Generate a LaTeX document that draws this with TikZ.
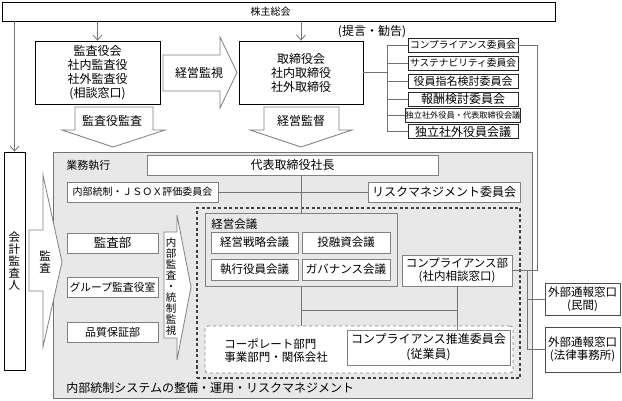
\documentclass[tikz,border=0pt]{standalone}
\usepackage{fontspec}
\setmainfont{Noto Sans CJK JP}
\usetikzlibrary{arrows.meta}

\begin{document}
\begin{tikzpicture}[x=1pt,y=-1pt,line width=0.8pt]
\tikzstyle{box} = [rectangle, draw=black, fill=white, inner sep=0pt, align=center,
font=\fontsize{12}{14}\selectfont]
\tikzstyle{gbox} = [rectangle, draw=black!50, fill=white, inner sep=0pt, align=center,
font=\fontsize{11.5}{13}\selectfont]
\tikzstyle{iinkai} = [rectangle, draw=black!85, fill=white, inner sep=0pt,
minimum width=110pt, minimum height=14pt]
\tikzstyle{bigarrow} = [draw=black!50, fill=white, line join=miter]
\tikzstyle{line} = [draw, black!55];
\tikzstyle{pointer} = [draw, black!55, -{Straight Barb[length=5pt,width=9pt]}];
\tikzstyle{vtext} = [align=center, inner sep=0pt, font=\fontsize{11.5}{12}\selectfont]
\tikzstyle{label} = [anchor=west, inner sep=0pt]

\useasboundingbox (0,0) rectangle (622,401);

% gyomu shikko area
\node[draw=black!55, fill=black!9, inner sep=0pt, minimum width=479pt,
minimum height=246pt] (gyomu) at (292.5,275) {};
\node[draw=black!75, line width=2pt, dash pattern=on 3pt off 2.5pt, inner sep=0pt,
minimum width=323pt, minimum height=170pt] (naibu) at (358.5,293) {};

% block arrows
\draw[bigarrow] (163,55) -- (220,55) -- (220,37) -- (237,72.5) -- (220,108)
  -- (220,91) -- (163,91) -- cycle;
\draw[bigarrow] (75,107) -- (153,107) -- (153,130) -- (165,130) -- (113,147)
  -- (62,130) -- (75,130) -- cycle;
\draw[bigarrow] (264,107) -- (339,107) -- (339,130) -- (352,130) -- (301,147)
  -- (250,130) -- (264,130) -- cycle;
\draw[bigarrow] (29,230) -- (43,230) -- (43,175) -- (62,262) -- (43,347)
  -- (43,291) -- (29,291) -- cycle;
\draw[bigarrow] (164,232) -- (177,232) -- (177,215) -- (191,287) -- (177,360)
  -- (177,338) -- (164,338) -- cycle;
\node[font=\fontsize{12}{14}\selectfont] (kanshi) at (199,73) {経営監視};
\node[font=\fontsize{12}{14}\selectfont] (kansayakukansa) at (112,121) {監査役監査};
\node[font=\fontsize{12}{14}\selectfont] (kantoku) at (301,121) {経営監督};
\node[vtext] (kansa) at (45,262) {監\\査};
\node[vtext, font=\fontsize{10.5}{11}\selectfont] (naibukansa) at (171,287)
  {内\\部\\監\\査\\・\\統\\制\\監\\視};

% top row
\node[box, font=\fontsize{10}{11}\selectfont, minimum width=553pt,
minimum height=19pt] (soukai) at (278.5,11.5) {株主総会\hspace*{16pt}};
\node[box, minimum width=125pt, minimum height=63pt] (kansayaku) at (97.5,72.5)
  {監査役会\\社内監査役\\社外監査役\\(相談窓口)};
\node[box, minimum width=124pt, minimum height=63pt] (torishimari) at (301,72.5)
  {取締役会\\社内取締役\\社外取締役};
\node[box, minimum width=21pt, minimum height=218pt, font=\fontsize{11.5}{12}\selectfont]
  (kaikei) at (14.5,261) {会\\計\\監\\査\\人};
\node[font=\fontsize{12}{14}\selectfont] (teigen) at (372,32) {(提言・勧告)};

% committees
\node[iinkai, font=\fontsize{9.7}{11}\selectfont] (iin1) at (463,45) {コンプライアンス委員会};
\node[iinkai, font=\fontsize{9.7}{11}\selectfont] (iin2) at (463,63) {サステナビリティ委員会};
\node[iinkai, font=\fontsize{11}{12}\selectfont] (iin3) at (463,81) {役員指名検討委員会};
\node[iinkai, font=\fontsize{12}{13}\selectfont] (iin4) at (463,99) {報酬検討委員会};
\node[iinkai, font=\fontsize{8.2}{9}\selectfont] (iin5) at (463,115.5) {独立社外役員・代表取締役会議};
\node[iinkai, font=\fontsize{12}{13}\selectfont] (iin6) at (463,131.5) {独立社外役員会議};

% inside gyomu shikko
\node[label, font=\fontsize{11}{13}\selectfont] (gyomutitle) at (66,165) {業務執行};
\node[gbox, font=\fontsize{12}{14}\selectfont, minimum width=291pt, minimum height=20pt]
  (shacho) at (292.5,165) {代表取締役社長};
\node[gbox, font=\fontsize{10}{12}\selectfont, minimum width=151pt, minimum height=20pt]
  (jsox) at (142.5,192) {内部統制・ＪＳＯＸ評価委員会};
\node[gbox, font=\fontsize{12}{14}\selectfont, minimum width=152pt, minimum height=20pt]
  (risk) at (444,192) {リスクマネジメント委員会};
\node[gbox, font=\fontsize{12.5}{14}\selectfont, minimum width=91pt, minimum height=20pt]
  (kansabu) at (112.5,243) {監査部};
\node[gbox, font=\fontsize{10.8}{12}\selectfont, minimum width=91pt, minimum height=20pt]
  (group) at (112.5,287) {グループ監査役室};
\node[gbox, font=\fontsize{11}{12}\selectfont, minimum width=91pt, minimum height=20pt]
  (hinshitsu) at (112.5,332) {品質保証部};

% keiei kaigi
\node[draw=black!50, fill=black!9, inner sep=0pt, minimum width=192pt,
minimum height=73pt] (keiei) at (301,249.5) {};
\node[label, font=\fontsize{11.5}{13}\selectfont] (keieititle) at (211,224) {経営会議};
\node[gbox, minimum width=87pt, minimum height=21pt] (senryaku) at (254.5,242.5) {経営戦略会議};
\node[gbox, minimum width=88pt, minimum height=21pt] (yushi) at (346,242.5) {投融資会議};
\node[gbox, minimum width=87pt, minimum height=21pt] (shikko) at (254.5,269.5) {執行役員会議};
\node[gbox, minimum width=88pt, minimum height=21pt] (governance) at (346,269.5) {ガバナンス会議};

\node[gbox, minimum width=110pt, minimum height=31pt] (compbu) at (457,270.5)
  {コンプライアンス部\\(社内相談窓口)};
\node[draw=black!50, dashed, fill=white, rounded corners=3pt, inner sep=0pt,
minimum width=308pt, minimum height=47pt] (corp) at (359,349.5) {};
\node[label, align=left, font=\fontsize{11.5}{13}\selectfont] (corptext) at (224,350.5)
  {コーポレート部門\\事業部門・関係会社};
\node[gbox, font=\fontsize{12}{15}\selectfont, minimum width=163pt, minimum height=35pt]
  (suishin) at (428.5,347.5) {コンプライアンス推進委員会\\(従業員)};
\node[label, font=\fontsize{12}{14}\selectfont] (taisei) at (66,388)
  {内部統制システムの整備・運用・リスクマネジメント};

% outside
\node[box, draw=black!70, font=\fontsize{11.5}{13}\selectfont, minimum width=75pt,
minimum height=32pt] (minkan) at (582.5,299) {外部通報窓口\\(民間)};
\node[box, draw=black!70, font=\fontsize{11.5}{13}\selectfont, minimum width=75pt,
minimum height=45pt] (houritsu) at (582.5,349.5) {外部通報窓口\\(法律事務所)};

% connectors
\path[pointer] (soukai.south -| kaikei.north) -- (kaikei.north);
\path[pointer] (soukai.south -| kansayaku.north) -- (kansayaku.north);
\path[pointer] (soukai.south -| torishimari.north) -- (torishimari.north);

\coordinate (bus) at (387,0);
\path[line] (torishimari.east) -- (torishimari.east -| bus);
\path[line] (iin1.west -| bus) -- (iin6.west -| bus);
\foreach \i in {1,...,6}
  \path[line] (iin\i.west) -- (iin\i.west -| bus);

\coordinate (rbus) at (537,0);
\coordinate (tsuho) at (527,0);
\path[line] (iin1.east) -- (iin1.east -| rbus) |- (compbu.east -| tsuho);
\path[line] (compbu.east) -- (compbu.east -| tsuho) |- (houritsu.west);
\path[line] (minkan.west) -- (minkan.west -| tsuho);

\path[line] (jsox.east) -- (risk.west);
\path[line] (keiei.north |- shacho.south) -- (keiei.north);
\path[line] (keiei.south) -- (keiei.south |- corp.north);
\coordinate (bunki) at (301,310);
\path[line] (bunki) -- (bunki -| compbu.south);
\path[line] (compbu.south) -- (compbu.south |- suishin.north);

\end{tikzpicture}
\end{document}
